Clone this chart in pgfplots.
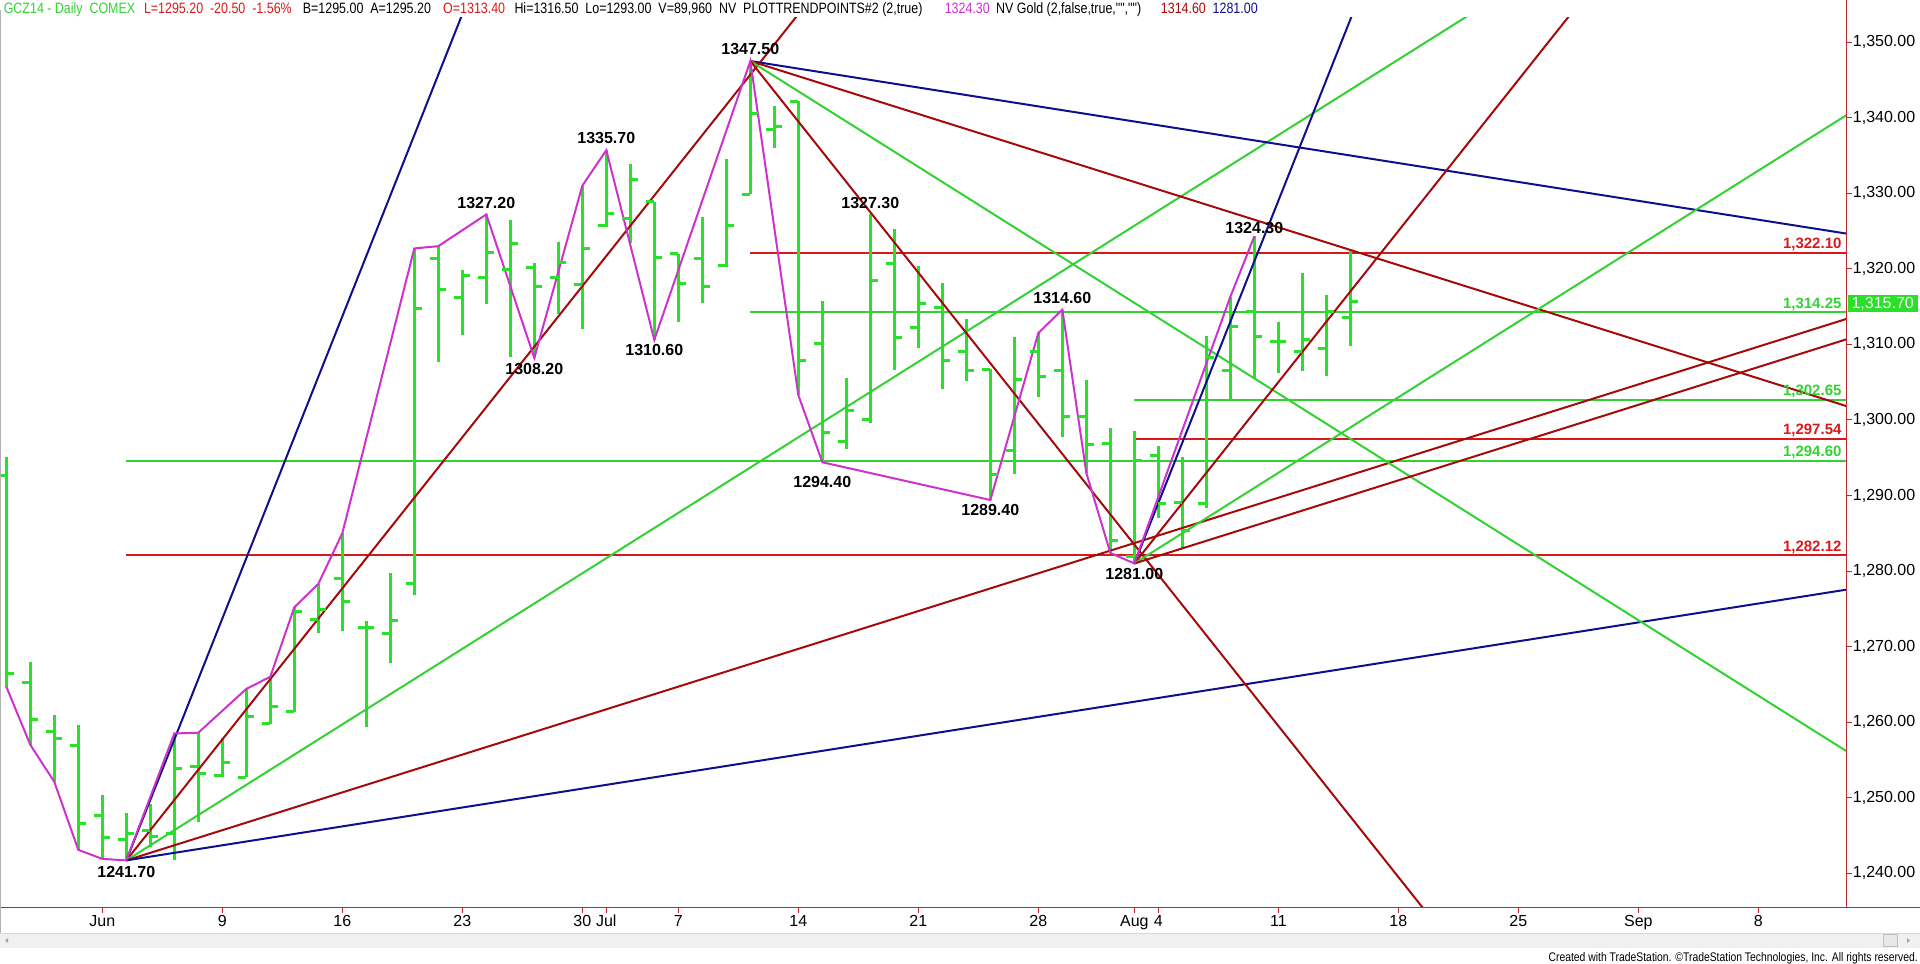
\documentclass[border=0pt]{standalone}
\usepackage{fontspec}
\setmainfont{Liberation Sans}
\newfontfamily\narrowfont[FakeStretch=0.83]{Liberation Sans}
\usepackage{pgfplots}
\usepackage{pgfplotstable}
\pgfplotsset{compat=1.18}

\definecolor{barg}{RGB}{40,225,40}
\definecolor{lineg}{RGB}{50,210,50}
\definecolor{dred}{RGB}{165,10,10}
\definecolor{hred}{RGB}{215,25,25}
\definecolor{navy}{RGB}{15,15,140}
\definecolor{zig}{RGB}{205,50,205}
\definecolor{axred}{RGB}{190,40,40}

\pgfdeclareplotmark{openL}{\pgfpathmoveto{\pgfqpoint{-8pt}{0pt}}\pgfpathlineto{\pgfqpoint{0pt}{0pt}}\pgfusepathqstroke}
\pgfdeclareplotmark{closeR}{\pgfpathmoveto{\pgfqpoint{0pt}{0pt}}\pgfpathlineto{\pgfqpoint{8pt}{0pt}}\pgfusepathqstroke}

% daily OHLC, i = trading day from Jun 2
\pgfplotstableread{
i o h l c
-4 1292.7 1295.1 1264.7 1266.4
-3 1265.3 1267.9 1257.0 1260.4
-2 1258.7 1261.0 1252.1 1257.9
-1 1256.9 1259.6 1243.1 1246.6
0 1247.6 1250.3 1241.9 1244.7
1 1244.5 1248.0 1241.7 1245.2
2 1245.7 1249.2 1243.5 1244.9
3 1245.3 1258.5 1241.8 1253.9
4 1254.1 1258.6 1246.8 1253.2
5 1252.9 1257.9 1252.8 1254.6
6 1252.7 1264.4 1252.7 1260.8
7 1259.8 1266.0 1259.8 1262.1
8 1261.4 1275.2 1261.4 1274.7
9 1273.6 1278.3 1271.8 1274.9
10 1279.0 1285.0 1272.1 1276.0
11 1272.5 1273.4 1259.3 1272.5
12 1271.7 1279.8 1267.8 1273.4
13 1278.3 1322.7 1276.8 1314.8
14 1321.4 1323.0 1307.7 1317.3
15 1316.2 1319.8 1311.3 1319.1
16 1318.9 1327.2 1315.3 1322.1
17 1319.9 1326.4 1308.3 1323.4
18 1320.2 1320.8 1308.2 1317.7
19 1318.9 1323.6 1314.0 1320.8
20 1317.9 1331.0 1312.1 1322.7
21 1325.8 1335.7 1325.5 1327.3
22 1326.7 1333.9 1323.4 1331.8
23 1328.9 1328.9 1310.6 1321.5
24 1322.0 1322.0 1313.0 1318.0
25 1321.4 1326.9 1315.5 1317.7
26 1320.5 1334.6 1320.3 1325.8
27 1329.9 1347.5 1329.9 1340.6
28 1338.5 1341.5 1336.0 1338.9
29 1342.2 1342.2 1303.3 1307.9
30 1310.1 1315.8 1294.4 1298.4
31 1297.1 1305.5 1296.1 1301.3
32 1300.1 1327.3 1299.6 1318.5
33 1320.7 1325.3 1306.6 1310.9
34 1312.2 1320.4 1309.5 1315.4
35 1314.9 1318.1 1304.1 1307.9
36 1309.1 1313.3 1305.2 1306.5
37 1306.7 1306.7 1289.4 1292.8
38 1296.0 1311.0 1292.9 1305.3
39 1309.0 1311.5 1303.1 1305.7
40 1306.6 1314.6 1297.8 1300.5
41 1300.5 1305.3 1293.0 1296.8
42 1296.9 1298.9 1282.4 1284.0
43 1281.9 1298.5 1281.0 1294.6
44 1295.3 1296.6 1287.0 1288.9
45 1289.1 1295.1 1283.0 1285.4
46 1289.0 1311.1 1288.4 1308.2
47 1306.6 1316.3 1302.7 1312.4
48 1314.3 1324.3 1305.5 1311.0
49 1310.4 1312.9 1306.2 1310.4
50 1309.1 1319.5 1306.5 1310.6
51 1309.5 1316.6 1305.8 1314.4
52 1313.5 1322.3 1309.8 1315.7
}\bars

% swing points (PLOTTRENDPOINTS)
\pgfplotstableread{
i p
-4 1264.7
-3 1257.0
-2 1252.1
-1 1243.1
0 1241.9
1 1241.7
3 1258.5
4 1258.6
6 1264.4
7 1266.0
8 1275.2
9 1278.3
10 1285.0
13 1322.7
14 1323.0
16 1327.2
18 1308.2
20 1331.0
21 1335.7
23 1310.6
27 1347.5
29 1303.3
30 1294.4
37 1289.4
39 1311.5
40 1314.6
41 1293.0
42 1282.4
43 1281.0
47 1316.3
48 1324.3
}\swings

\begin{document}
\begin{tikzpicture}
\begin{axis}[
  width=1846.7pt, height=890pt, scale only axis,
  xmin=-4.2625, xmax=72.683, ymin=1235.4, ymax=1353.2,
  axis x line*=bottom, axis y line*=right,
  axis line style={draw=none},
  tick align=outside, major tick length=5pt,
  tick style={axred, line width=1pt},
  xtick={0,5,10,15,20,21,24,29,34,39,43,44,49,54,59,64,69},
  xticklabels={Jun,9,16,23,30,Jul,7,14,21,28,Aug,4,11,18,25,Sep,8},
  ytick={1240,1250,...,1350},
  scaled y ticks=false,
  xticklabel style={font=\fontsize{16}{18}\selectfont, inner sep=2pt},
  yticklabel style={font=\fontsize{16}{18}\selectfont, inner sep=1pt,
    /pgf/number format/.cd, fixed, fixed zerofill, precision=2, 1000 sep={,}, assume math mode=true},
]
\coordinate (O) at (axis cs:-4.2625,1235.4);
% horizontal levels
\addplot[lineg, line width=2pt] coordinates {(1,1294.6) (80,1294.6)};
\addplot[hred, line width=2pt] coordinates {(1,1282.12) (80,1282.12)};
\addplot[hred, line width=2pt] coordinates {(27,1322.1) (80,1322.1)};
\addplot[lineg, line width=2pt] coordinates {(27,1314.25) (80,1314.25)};
\addplot[lineg, line width=2pt] coordinates {(43,1302.65) (80,1302.65)};
\addplot[hred, line width=2pt] coordinates {(43,1297.54) (80,1297.54)};

% price bars
\addplot[draw=none, mark=none, error bars/.cd, y dir=plus, y explicit, error mark=none,
  error bar style={draw=barg, line width=3pt}]
  table[x=i, y=l, y error expr=\thisrow{h}-\thisrow{l}] {\bars};
\addplot[only marks, mark=openL, mark options={draw=barg, line width=3pt}] table[x=i, y=o] {\bars};
\addplot[only marks, mark=closeR, mark options={draw=barg, line width=3pt}] table[x=i, y=c] {\bars};

% angles from the 1241.70 low
\addplot[navy, line width=2pt] coordinates {(1,1241.7) (16,1361.7)};
\addplot[dred, line width=2pt] coordinates {(1,1241.7) (30,1357.7)};
\addplot[lineg, line width=2pt] coordinates {(1,1241.7) (60,1359.7)};
\addplot[dred, line width=2pt] coordinates {(1,1241.7) (75,1315.7)};
\addplot[navy, line width=2pt] coordinates {(1,1241.7) (75,1278.7)};
% angles from the 1347.50 high
\addplot[navy, line width=2pt] coordinates {(27,1347.5) (75,1323.5)};
\addplot[dred, line width=2pt] coordinates {(27,1347.5) (75,1299.5)};
\addplot[lineg, line width=2pt] coordinates {(27,1347.5) (75,1251.5)};
\addplot[dred, line width=2pt] coordinates {(27,1347.5) (57,1227.5)};
% angles from the 1281.00 low
\addplot[navy, line width=2pt] coordinates {(43,1281) (53,1361)};
\addplot[dred, line width=2pt] coordinates {(43,1281) (63,1361)};
\addplot[lineg, line width=2pt] coordinates {(43,1281) (75,1345)};
\addplot[dred, line width=2pt] coordinates {(43,1281) (75,1313)};

% swing line
\addplot[zig, line width=2pt] table[x=i, y=p] {\swings};

% swing labels
\begin{scope}[every node/.style={font=\bfseries\fontsize{16}{18}\selectfont, inner sep=0pt}]
\node at (axis cs:1,1240.2) {1241.70};
\node at (axis cs:16,1328.7) {1327.20};
\node at (axis cs:18,1306.8) {1308.20};
\node at (axis cs:21,1337.3) {1335.70};
\node at (axis cs:23,1309.3) {1310.60};
\node at (axis cs:27,1349.1) {1347.50};
\node at (axis cs:32,1328.7) {1327.30};
\node at (axis cs:30,1291.8) {1294.40};
\node at (axis cs:37,1288.1) {1289.40};
\node at (axis cs:40,1316.1) {1314.60};
\node at (axis cs:43,1279.6) {1281.00};
\node at (axis cs:48,1325.4) {1324.30};
\end{scope}
% level labels
\begin{scope}[every node/.style={font=\bfseries\fontsize{15}{17}\selectfont, inner sep=0pt, anchor=base east, yshift=4pt}]
\node[hred] at (axis cs:72.47,1322.1) {1,322.10};
\node[lineg] at (axis cs:72.47,1314.25) {1,314.25};
\node[lineg] at (axis cs:72.47,1302.65) {1,302.65};
\node[hred] at (axis cs:72.47,1297.54) {1,297.54};
\node[lineg] at (axis cs:72.47,1294.6) {1,294.60};
\node[hred] at (axis cs:72.47,1282.12) {1,282.12};
\end{scope}
\end{axis}

\pgfresetboundingbox
\begin{scope}[shift={(O)}, yshift=-56pt, x=1pt, y=1pt]
\useasboundingbox (0,0) rectangle (1920,964);
% frame lines
\draw[axred, line width=1pt] (0,56) -- (1920,56);
\draw[axred, line width=1pt] (1846.7,56) -- (1846.7,964);
\draw[gray!60, line width=1.2pt] (0.6,16) -- (0.6,954);

% last price box
\fill[barg] (1847.5,652) rectangle (1918,669);
\node[white, font=\fontsize{16}{18}\selectfont, inner sep=0pt] at (1882.7,660.5) {1,315.70};

% scroll bar
\fill[gray!12] (0,16) rectangle (1920,31);
\draw[gray!30] (0,31) -- (1920,31);
\fill[gray!70] (5,23.5) -- (8,26) -- (8,21) -- cycle;
\filldraw[fill=gray!18, draw=gray!50] (1883,17.5) rectangle (1897,29.5);
\fill[gray!70] (1910,23.5) -- (1907,26) -- (1907,21) -- cycle;

% header
\begin{scope}[every node/.style={font=\narrowfont\fontsize{15}{17}\selectfont, inner sep=0pt, anchor=base west}]
\node[text=lineg] at (3.6,950) {GCZ14 - Daily\ \ COMEX};
\node[text=hred] at (143.8,950) {L=1295.20\ \ -20.50\ \ -1.56\%};
\node at (302.7,950) {B=1295.00\ \ A=1295.20};
\node[text=hred] at (443,950) {O=1313.40};
\node at (514.3,950) {Hi=1316.50\ \ Lo=1293.00\ \ V=89,960\ \ NV\ \ PLOTTRENDPOINTS\#2 (2,true)};
\node[text=zig] at (944.6,950) {1324.30};
\node at (996,950) {NV Gold (2,false,true,"","")};
\node[text=dred] at (1160.7,950) {1314.60};
\node[text=navy] at (1212.5,950) {1281.00};
\end{scope}

% footer
\node[font=\narrowfont\fontsize{12.5}{14}\selectfont, inner sep=0pt, anchor=base east] at (1918,2.5)
  {Created with TradeStation. \textcopyright TradeStation Technologies, Inc. All rights reserved.};
\end{scope}
\end{tikzpicture}
\end{document}
